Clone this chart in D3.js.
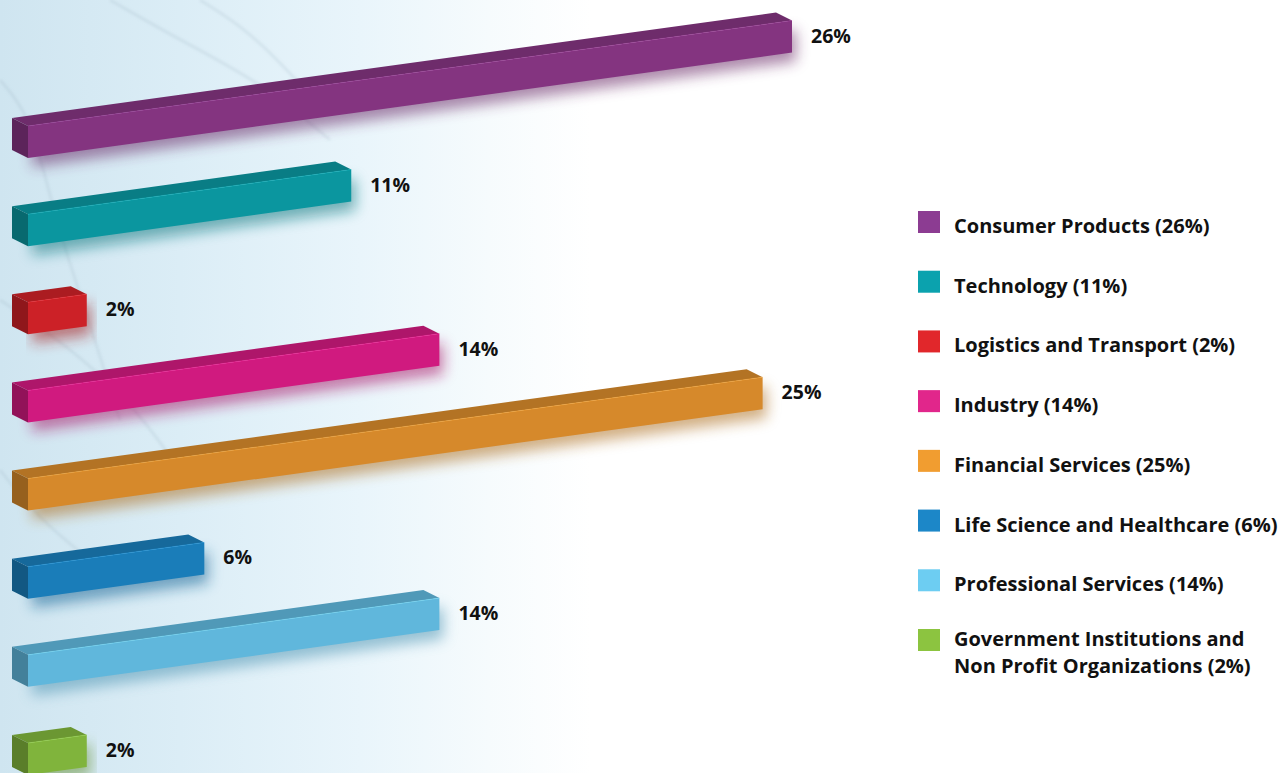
<!DOCTYPE html>
<html>
<head>
<meta charset="utf-8">
<script src="https://cdn.jsdelivr.net/npm/d3@7/dist/d3.min.js"></script>
<style>
  html, body { margin: 0; padding: 0; background: #fff; }
  svg { display: block; }
</style>
</head>
<body>
<svg id="chart" width="1286" height="773"></svg>
<script>
// Industry share of clients, in percent
const categories = [
  "Consumer Products",
  "Technology",
  "Logistics and Transport",
  "Industry",
  "Financial Services",
  "Life Science and Healthcare",
  "Professional Services",
  "Government Institutions and\nNon Profit Organizations"
];
const values = [26, 11, 2, 14, 25, 6, 14, 2];

// Face colour of each 3D bar and the matching legend swatch
const barColors = ["#843480", "#0b969f", "#cc2127", "#d01a7f", "#d6892b", "#1a7db9", "#60b7dc", "#80b43c"];
const legendColors = ["#8c3c92", "#0ba2ae", "#e1272b", "#e1268b", "#f19d30", "#1c87c8", "#6dcdf2", "#8cc440"];

const W = 1286, H = 773;
const FONT = "'Open Sans', Lato, sans-serif";
const svg = d3.select("#chart");
const defs = svg.append("defs");

// ---- backdrop: pale blue wash fading to white on the right ----
const bg = defs.append("linearGradient").attr("id", "bgGrad")
  .attr("x1", 0).attr("y1", 0).attr("x2", 1).attr("y2", 0);
[[0, "#cfe5f0"], [0.14, "#dbedf6"], [0.28, "#e9f5fb"], [0.38, "#f6fbfd"], [0.46, "#ffffff"], [1, "#ffffff"]]
  .forEach(([o, c]) => bg.append("stop").attr("offset", o).attr("stop-color", c));
svg.append("rect").attr("width", W).attr("height", H).attr("fill", "url(#bgGrad)");

const haze = defs.append("filter").attr("id", "haze")
  .attr("x", "-20%").attr("y", "-20%").attr("width", "140%").attr("height", "140%");
haze.append("feGaussianBlur").attr("stdDeviation", 1.8);

// faint curved glass streaks in the backdrop
const streaks = [
  [[0, 80], [30, 115], [48, 190], [70, 265], [95, 340], [120, 420]],
  [[110, 0], [180, 40], [267, 86], [330, 140]],
  [[200, 0], [240, 25], [275, 57], [310, 95]],
  [[0, 300], [60, 340], [130, 400], [180, 470]],
  [[0, 470], [40, 520], [90, 560]]
];
svg.append("g").attr("filter", "url(#haze)")
  .selectAll("path").data(streaks).join("path")
  .attr("d", d3.line().curve(d3.curveBasis))
  .attr("fill", "none")
  .attr("stroke", "#8fa9b8")
  .attr("stroke-opacity", 0.25)
  .attr("stroke-width", 2.2);

// ---- scales ----
const x = d3.scaleLinear().domain([0, 26]).range([28, 792]);
const yBase = d3.scalePoint().domain(categories).range([158, 775]);   // bottom edge of the front face at its left end

const slope = 0.138;   // upward tilt of the bars
const faceH = 32;      // height of the front face
const depthX = -16, depthY = -8;   // receding direction of the top and end faces

const data = categories.map((c, i) => ({ name: c, value: values[i], color: barColors[i], legend: legendColors[i] }));

function geom(d) {
  const x0 = x(0), x1 = x(d.value);
  const yb = yBase(d.name);
  const rise = slope * (x1 - x0);
  return {
    x0, x1,
    front: [[x0, yb - faceH], [x1, yb - faceH - rise], [x1, yb - rise], [x0, yb]],
    top: [[x0, yb - faceH], [x1, yb - faceH - rise], [x1 + depthX, yb - faceH - rise + depthY], [x0 + depthX, yb - faceH + depthY]],
    side: [[x0 + depthX, yb - faceH + depthY], [x0, yb - faceH], [x0, yb], [x0 + depthX, yb + depthY]],
    labelY: yb - rise - faceH / 2
  };
}
const pts = p => p.map(q => q.join(",")).join(" ");

// soft coloured shadow beneath each bar
const sh = defs.append("filter").attr("id", "barShadow")
  .attr("x", "-10%").attr("y", "-60%").attr("width", "120%").attr("height", "220%");
sh.append("feGaussianBlur").attr("stdDeviation", 7);

const bars = svg.append("g").selectAll("g.bar").data(data).join("g").attr("class", "bar");

bars.append("polygon")
  .attr("points", d => pts(geom(d).front.map(([a, b]) => [a + 4, b + 9])))
  .attr("fill", d => d3.color(d.color).darker(0.6))
  .attr("opacity", 0.55)
  .attr("filter", "url(#barShadow)");

bars.append("polygon")
  .attr("points", d => pts(geom(d).top))
  .attr("fill", d => d3.color(d.color).darker(0.5));

bars.append("polygon")
  .attr("points", d => pts(geom(d).side))
  .attr("fill", d => d3.color(d.color).darker(1.0));

bars.append("polygon")
  .attr("points", d => pts(geom(d).front))
  .attr("fill", d => d.color);

// thin highlight along the top-front edge
bars.append("line")
  .attr("x1", d => geom(d).front[0][0]).attr("y1", d => geom(d).front[0][1])
  .attr("x2", d => geom(d).front[1][0]).attr("y2", d => geom(d).front[1][1])
  .attr("stroke", d => d3.color(d.color).brighter(0.6))
  .attr("stroke-width", 0.8)
  .attr("stroke-opacity", 0.6);

// value labels at the end of each bar
bars.append("text")
  .attr("x", d => geom(d).x1 + 19)
  .attr("y", d => geom(d).labelY + 6)
  .attr("font-family", FONT)
  .attr("font-weight", 700)
  .attr("font-size", 19.5)
  .attr("fill", "#111")
  .text(d => d.value + "%");

// ---- legend ----
const legendY = d3.scalePoint().domain(categories).range([222, 640]);
const leg = svg.append("g").selectAll("g.item").data(data).join("g").attr("class", "item");

leg.append("rect")
  .attr("x", 918).attr("y", d => legendY(d.name) - 11)
  .attr("width", 22).attr("height", 22)
  .attr("fill", d => d.legend);

// each legend line is its own text element so wrapped entries stay apart
leg.each(function (d) {
  const lines = d.name.split("\n");
  lines[lines.length - 1] += ` (${d.value}%)`;
  const y0 = legendY(d.name) + (lines.length > 1 ? 6 : 11);
  d3.select(this).selectAll("text").data(lines).join("text")
    .attr("x", 954)
    .attr("y", (t, i) => y0 + i * 27)
    .attr("font-family", FONT)
    .attr("font-weight", 700)
    .attr("font-size", 20)
    .attr("fill", "#111")
    .text(t => t);
});
</script>
</body>
</html>
